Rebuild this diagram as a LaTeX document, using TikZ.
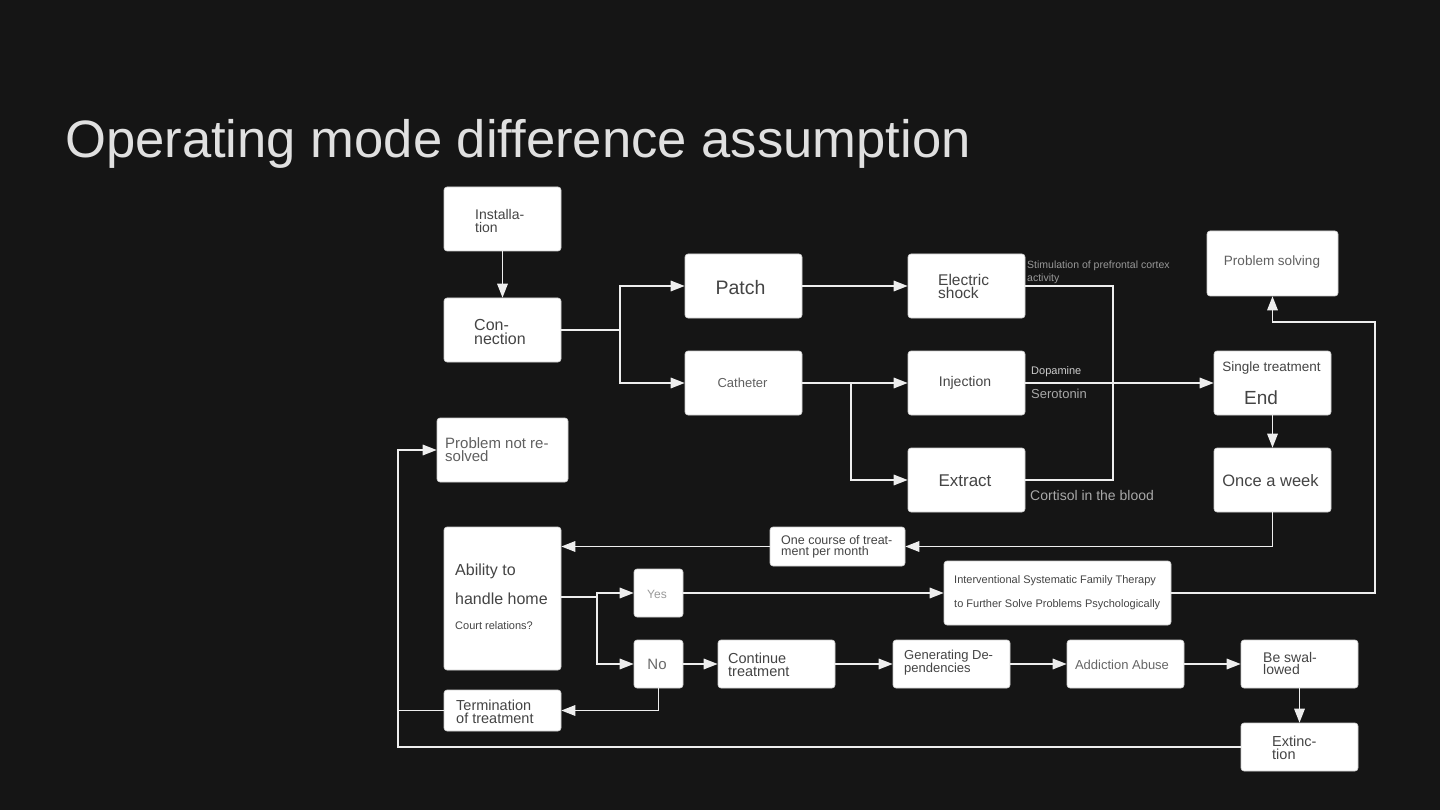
\documentclass[tikz,border=0pt]{standalone}
\usepackage{fontspec}
\setmainfont{Liberation Sans}
\usetikzlibrary{arrows.meta}
\definecolor{bg}{HTML}{151515}
\definecolor{ttl}{HTML}{E0E0E0}
\definecolor{boxtxt}{HTML}{444444}
\definecolor{lbl}{HTML}{A8A8A8}
\definecolor{wire}{HTML}{EEEEEE}
\newcommand{\fs}[2]{\fontsize{#1}{#2}\selectfont}
\tikzset{
  box/.style={draw=white!80!black, line width=0.6pt, fill=white, rounded corners=3pt, inner sep=0pt, minimum width=117pt, minimum height=64pt},
  txt/.style={inner sep=0pt, text=boxtxt, align=left, yshift=-1.5pt},
  ltxt/.style={txt, anchor=west},
  side/.style={inner sep=0pt, text=lbl, anchor=west, align=left, yshift=-1pt},
  wirel/.style={draw=wire, line width=1.6pt},
  arr/.style={wirel, -{Triangle[length=14pt,width=10.5pt]}},
}
\begin{document}
\begin{tikzpicture}[x=1pt,y=-1pt]
\useasboundingbox (0,0) rectangle (1440,810);
\fill[bg] (0,0) rectangle (1440,810);
\node[inner sep=0pt, anchor=base west, text=ttl, font=\fs{52.6}{60}] (title) at (65,158) {Operating mode difference assumption};

% boxes
\node[box] (inst) at (502.5,219) {};
\node[box] (conn) at (502.5,330) {};
\node[box] (patch) at (743.5,286) {};
\node[box] (cath) at (743.5,383) {};
\node[box] (shock) at (966.5,286) {};
\node[box] (inj) at (966.5,383) {};
\node[box] (extr) at (966.5,480) {};
\node[box, minimum width=131pt, minimum height=65pt] (psolve) at (1272.5,263.5) {};
\node[box] (single) at (1272.5,383) {};
\node[box] (week) at (1272.5,480) {};
\node[box, minimum width=131pt] (notres) at (502.5,450) {};
\node[box, minimum height=143pt] (ability) at (502.5,598.5) {};
\node[box, minimum width=135pt, minimum height=39pt] (course) at (837.5,546.5) {};
\node[box, minimum width=49pt, minimum height=48pt] (yes) at (658.5,593) {};
\node[box, minimum width=227pt] (interv) at (1057.5,593) {};
\node[box, minimum width=49pt, minimum height=48pt] (no) at (658.5,664) {};
\node[box, minimum height=48pt] (cont) at (776.5,664) {};
\node[box, minimum height=48pt] (gen) at (951.5,664) {};
\node[box, minimum height=48pt] (addict) at (1125.5,664) {};
\node[box, minimum height=48pt] (swal) at (1299.5,664) {};
\node[box, minimum height=41pt] (term) at (502.5,710.5) {};
\node[box, minimum height=48pt] (ext) at (1299.5,747) {};

% texts
\node[ltxt, font=\fs{14}{13}] (tinst) at (475,219) {Installa-\\tion};
\node[ltxt, font=\fs{16}{14}] (tconn) at (474,330) {Con-\\nection};
\node[txt, font=\fs{19.5}{22}] (tpatch) at (740.5,286) {Patch};
\node[txt, font=\fs{13}{15}, text=boxtxt!85!white] (tcath) at (742.5,381) {Catheter};
\node[ltxt, font=\fs{15.5}{13}] (tshock) at (938,285) {Electric\\shock};
\node[txt, font=\fs{14}{16}] (tinj) at (965,381) {Injection};
\node[txt, font=\fs{17}{19}] (textr) at (965,479) {Extract};
\node[txt, font=\fs{13.5}{16}, text=boxtxt!85!white] (tpsolve) at (1272,261) {Problem solving};
\node[txt, font=\fs{13.5}{16}] (tsingle) at (1271.5,367) {Single treatment};
\node[ltxt, font=\fs{19}{22}] (tend) at (1244,396) {End};
\node[txt, font=\fs{16.5}{19}] (tweek) at (1270.5,479) {Once a week};
\node[ltxt, font=\fs{15}{13}, text=boxtxt!85!white] (tnotres) at (445,448) {Problem not re-\\solved};
\node[ltxt, font=\fs{16}{18}] (tab1) at (455,570) {Ability to};
\node[ltxt, font=\fs{16}{18}] (tab2) at (455,597) {handle home};
\node[ltxt, font=\fs{11}{13}] (tab3) at (455,624) {Court relations?};
\node[ltxt, font=\fs{14.5}{13}] (tterm) at (456,710) {Termination\\of treatment};
\node[ltxt, font=\fs{12.5}{11}] (tcourse) at (781,545) {One course of treat-\\ment per month};
\node[txt, font=\fs{12}{14}, text=black!40] (tyes) at (657,593) {Yes};
\node[ltxt, font=\fs{11}{13}] (tint1) at (954,579) {Interventional Systematic Family Therapy};
\node[ltxt, font=\fs{11}{13}] (tint2) at (954,603) {to Further Solve Problems Psychologically};
\node[txt, font=\fs{15}{17}, text=boxtxt!80!white] (tno) at (657,663) {No};
\node[ltxt, font=\fs{14.5}{13}] (tcont) at (728,663) {Continue\\treatment};
\node[ltxt, font=\fs{13}{12}] (tgen) at (904,661) {Generating De-\\pendencies};
\node[txt, font=\fs{13}{15}, text=black!60] (taddict) at (1122,663) {Addiction Abuse};
\node[ltxt, font=\fs{14}{12}] (tswal) at (1263,662) {Be swal-\\lowed};
\node[ltxt, font=\fs{14.5}{13}] (text) at (1272,746) {Extinc-\\tion};

% side labels
\node[side, font=\fs{10.5}{13}, text=black!40!white] (lstim) at (1027,271.5) {Stimulation of prefrontal cortex\\activity};
\node[side, font=\fs{11}{13}, text=white!80!black] (ldopa) at (1031,371) {Dopamine};
\node[side, font=\fs{13}{15}] (lsero) at (1031,393) {Serotonin};
\node[side, font=\fs{14}{16}] (lcort) at (1030,494) {Cortisol in the blood};

% connectors
\coordinate (j1) at (620,330);
\coordinate (j2) at (851,383);
\coordinate (j3) at (1113,286);
\coordinate (j4) at (597,597);
\coordinate (j5) at (398,747);
\coordinate (j6) at (1375,593);

\draw[arr] (inst) -- (conn);
\draw[wirel] (conn.east |- j1) -- (j1);
\draw[arr] (j1) |- (patch.west);
\draw[arr] (j1) |- (cath.west);
\draw[arr] (patch) -- (shock);
\draw[arr] (cath) -- (inj);
\draw[arr] (j2) |- (extr.west);
\draw[wirel] (shock.east) -- (j3) -- (j3 |- extr.east) -- (extr.east);
\draw[arr] (inj) -- (single);
\draw[arr] (single) -- (week);
\draw[arr] (week.south) |- (course.east);
\draw[arr] (course.west) -- (ability.east |- course.west);
\draw[wirel] (ability.east |- j4) -- (j4);
\draw[arr] (j4) |- (yes.west);
\draw[arr] (j4) |- (no.west);
\draw[arr] (yes) -- (interv);
\draw[arr] (interv.east) -- (j6) |- (1272.5,322) -- (psolve.south);
\draw[arr] (no) -- (cont);
\draw[arr] (cont) -- (gen);
\draw[arr] (gen) -- (addict);
\draw[arr] (addict) -- (swal);
\draw[arr] (swal) -- (ext);
\draw[arr] (no.south) |- (term.east);
\draw[arr] (ext.west) -- (j5) |- (notres.west);
\draw[wirel] (term.west) -- (j5 |- term.west);
\end{tikzpicture}
\end{document}
